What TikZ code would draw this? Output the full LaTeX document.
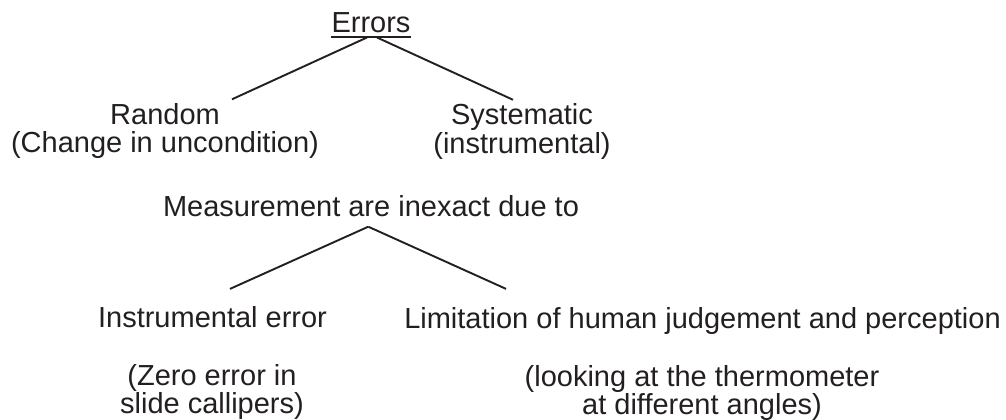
\documentclass[tikz,border=0pt]{standalone}
\usepackage{fontspec}
\setmainfont{Liberation Sans}
\usetikzlibrary{calc}
\definecolor{ink}{RGB}{35,31,32}
\begin{document}
\begin{tikzpicture}[x=1pt,y=-1pt,
  lbl/.style={anchor=base,inner sep=0pt,text=ink,font=\fontsize{29}{29}\selectfont},
  branch/.style={draw=ink,line width=1.9pt}]
\useasboundingbox (0,0) rectangle (1006,420);

% first tree: kinds of errors
\node[lbl] (errors) at (371,33) {Errors};
\draw[branch,line width=1.6pt] ($(errors.base west)+(0,4)$) -- ($(errors.base east)+(0,4)$);

\node[lbl] (random) at (165,124.5) {Random};
\node[lbl] (randomnote) at (165,152.5) {(Change in uncondition)};
\node[lbl] (syst) at (522,124) {Systematic};
\node[lbl] (systnote) at (522,153) {(instrumental)};

\draw[branch] ($(errors.base)+(-4,4.5)$) -- ($(random.north east)+(12,-4)$);
\draw[branch] ($(errors.base)+(6,4.5)$) -- ($(syst.north)+(-9,-3)$);

% second tree: sources of inexact measurement
\node[lbl] (meas) at (371,216.5) {Measurement are inexact due to};
\coordinate (apex) at ($(meas.base)+(-2.7,10.2)$);

\node[lbl] (instr) at (212.5,327.5) {Instrumental error};
\node[lbl] (limit) at (702.5,328.5) {Limitation of human judgement and perception};

\draw[branch] (apex) -- ($(instr.north)+(17.5,-17.4)$);
\draw[branch] (apex) -- ($(limit.north west)+(102,-18.4)$);

\node[lbl] (instra) at (212,385) {(Zero error in};
\node[lbl] (instrb) at (212,413.5) {slide callipers)};
\node[lbl] (limita) at (702,386.5) {(looking at the thermometer};
\node[lbl] (limitb) at (702,414) {at different angles)};
\end{tikzpicture}
\end{document}
